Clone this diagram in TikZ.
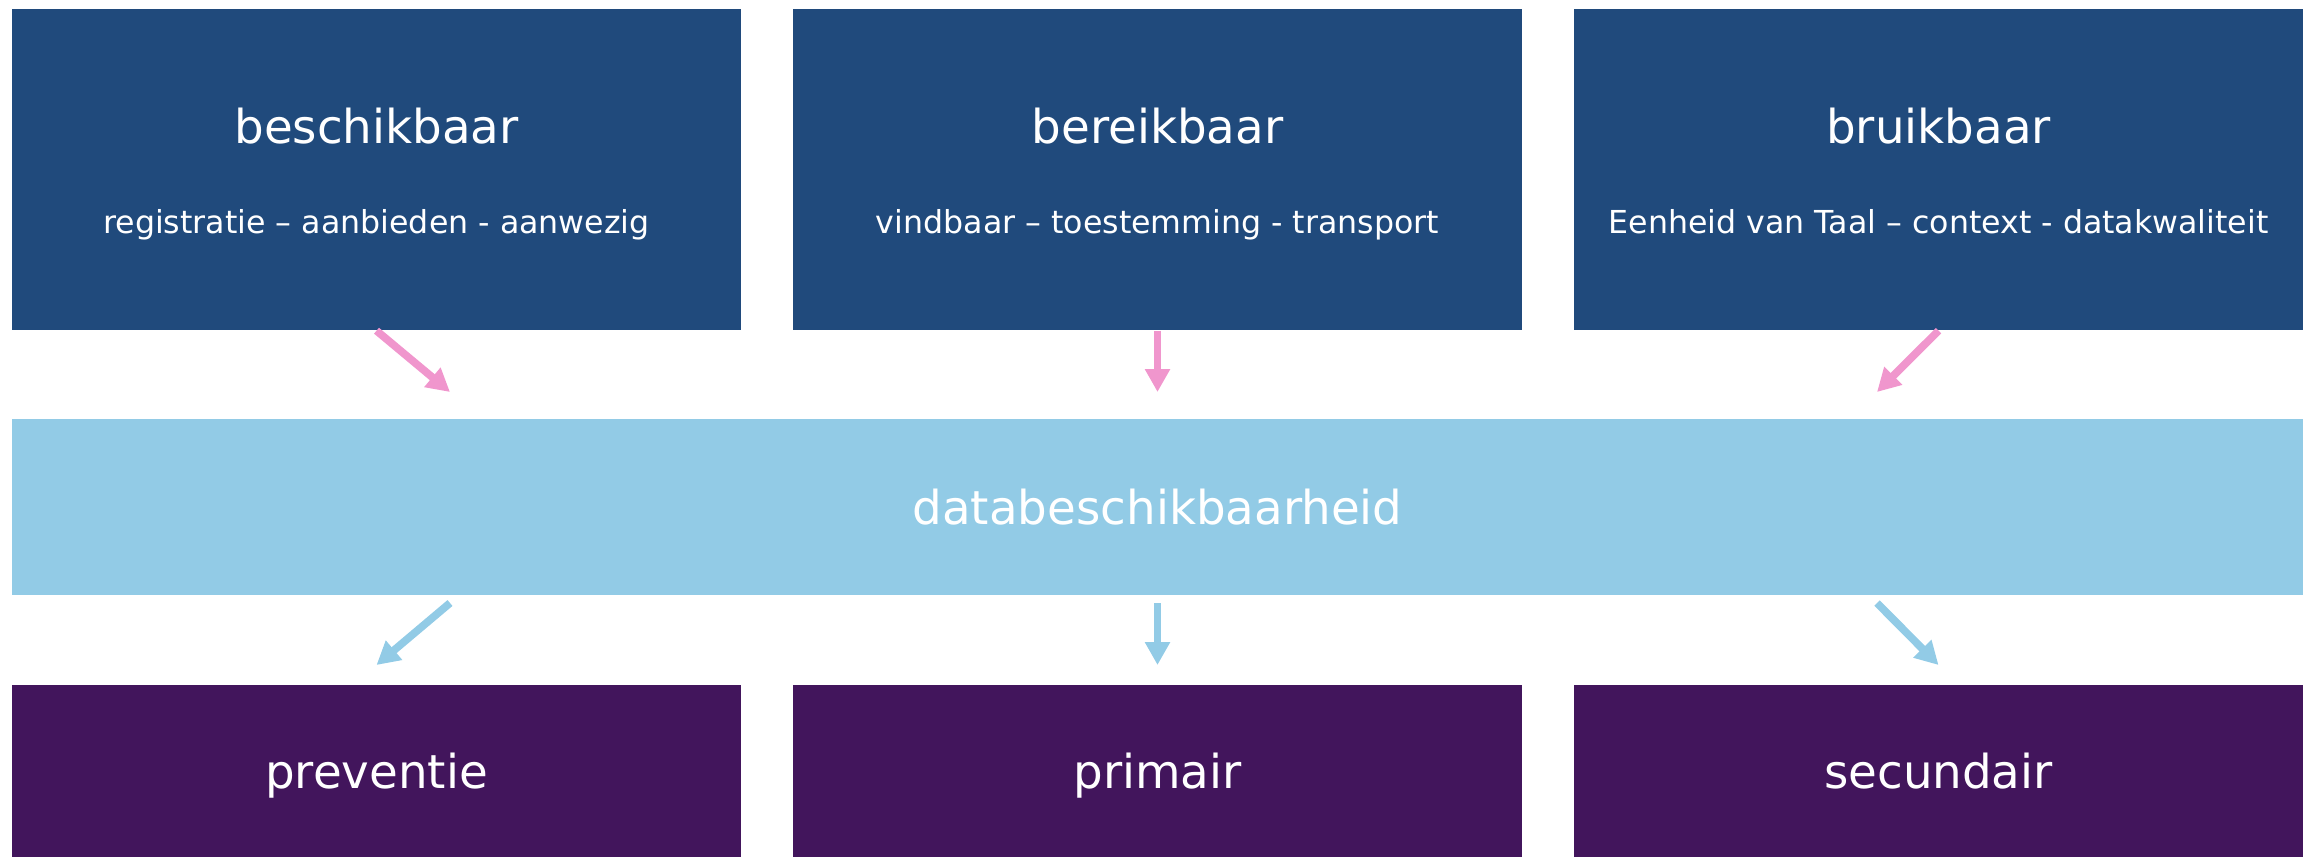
\documentclass[tikz,border=0pt]{standalone}
\usepackage{fontspec}
\setmainfont{DejaVu Sans}
\usetikzlibrary{arrows.meta}

\definecolor{donkerblauw}{HTML}{204A7C}
\definecolor{lichtblauw}{HTML}{92CBE6}
\definecolor{paars}{HTML}{42155C}
\definecolor{roze}{HTML}{F096CD}

\tikzset{
  vak/.style={fill=#1, draw=none, inner sep=0pt},
  titel/.style={text=white, font=\fontsize{13.3}{16}\selectfont, inner sep=0pt},
  onder/.style={text=white, font=\fontsize{9}{11}\selectfont, inner sep=0pt},
  pijl/.style={draw=#1, line width=0.077cm, -{Triangle[width=0.24cm,length=0.23cm]}}
}

\begin{document}
\begin{tikzpicture}
\useasboundingbox (0,0) rectangle (23.15,-8.57);

% bovenste rij
\node[vak=donkerblauw, minimum width=7.29cm, minimum height=3.21cm] (beschik) at (3.765,-1.695) {};
\node[vak=donkerblauw, minimum width=7.29cm, minimum height=3.21cm] (bereik) at (11.575,-1.695) {};
\node[vak=donkerblauw, minimum width=7.29cm, minimum height=3.21cm] (bruik) at (19.385,-1.695) {};

\node[titel, anchor=base] (beschikT) at ([yshift=-1.35cm]beschik.north) {beschikbaar};
\node[titel, anchor=base] (bereikT) at ([yshift=-1.35cm]bereik.north) {bereikbaar};
\node[titel, anchor=base] (bruikT) at ([yshift=-1.35cm]bruik.north) {bruikbaar};
\node[onder, anchor=base] (beschikO) at ([yshift=-2.25cm]beschik.north) {registratie – aanbieden - aanwezig};
\node[onder, anchor=base] (bereikO) at ([yshift=-2.25cm]bereik.north) {vindbaar – toestemming - transport};
\node[onder, anchor=base] (bruikO) at ([yshift=-2.25cm]bruik.north) {Eenheid van Taal – context - datakwaliteit};

% midden
\node[vak=lichtblauw, minimum width=22.91cm, minimum height=1.76cm, titel] (data) at (11.575,-5.07) {databeschikbaarheid};

% onderste rij
\node[vak=paars, minimum width=7.29cm, minimum height=1.72cm, titel, text height=0.35cm, text depth=0cm] (preventie) at (3.765,-7.71) {preventie};
\node[vak=paars, minimum width=7.29cm, minimum height=1.72cm, titel, text height=0.35cm, text depth=0cm] (primair) at (11.575,-7.71) {primair};
\node[vak=paars, minimum width=7.29cm, minimum height=1.72cm, titel, text height=0.35cm, text depth=0cm] (secundair) at (19.385,-7.71) {secundair};

% pijlen
\coordinate (p1) at (4.50,-3.92);
\coordinate (p2) at (11.575,-3.92);
\coordinate (p3) at (18.77,-3.92);
\draw[pijl=roze] (beschik.south) -- (p1);
\draw[pijl=roze] (bereik.south) -- (p2);
\draw[pijl=roze] (bruik.south) -- (p3);

\coordinate (q1) at (4.50,-6.03);
\coordinate (q2) at (11.575,-6.03);
\coordinate (q3) at (18.77,-6.03);
\draw[pijl=lichtblauw] (q1) -- (preventie.north |- 0,-6.65);
\draw[pijl=lichtblauw] (q2) -- (primair.north |- 0,-6.65);
\draw[pijl=lichtblauw] (q3) -- (secundair.north |- 0,-6.65);

\end{tikzpicture}
\end{document}
